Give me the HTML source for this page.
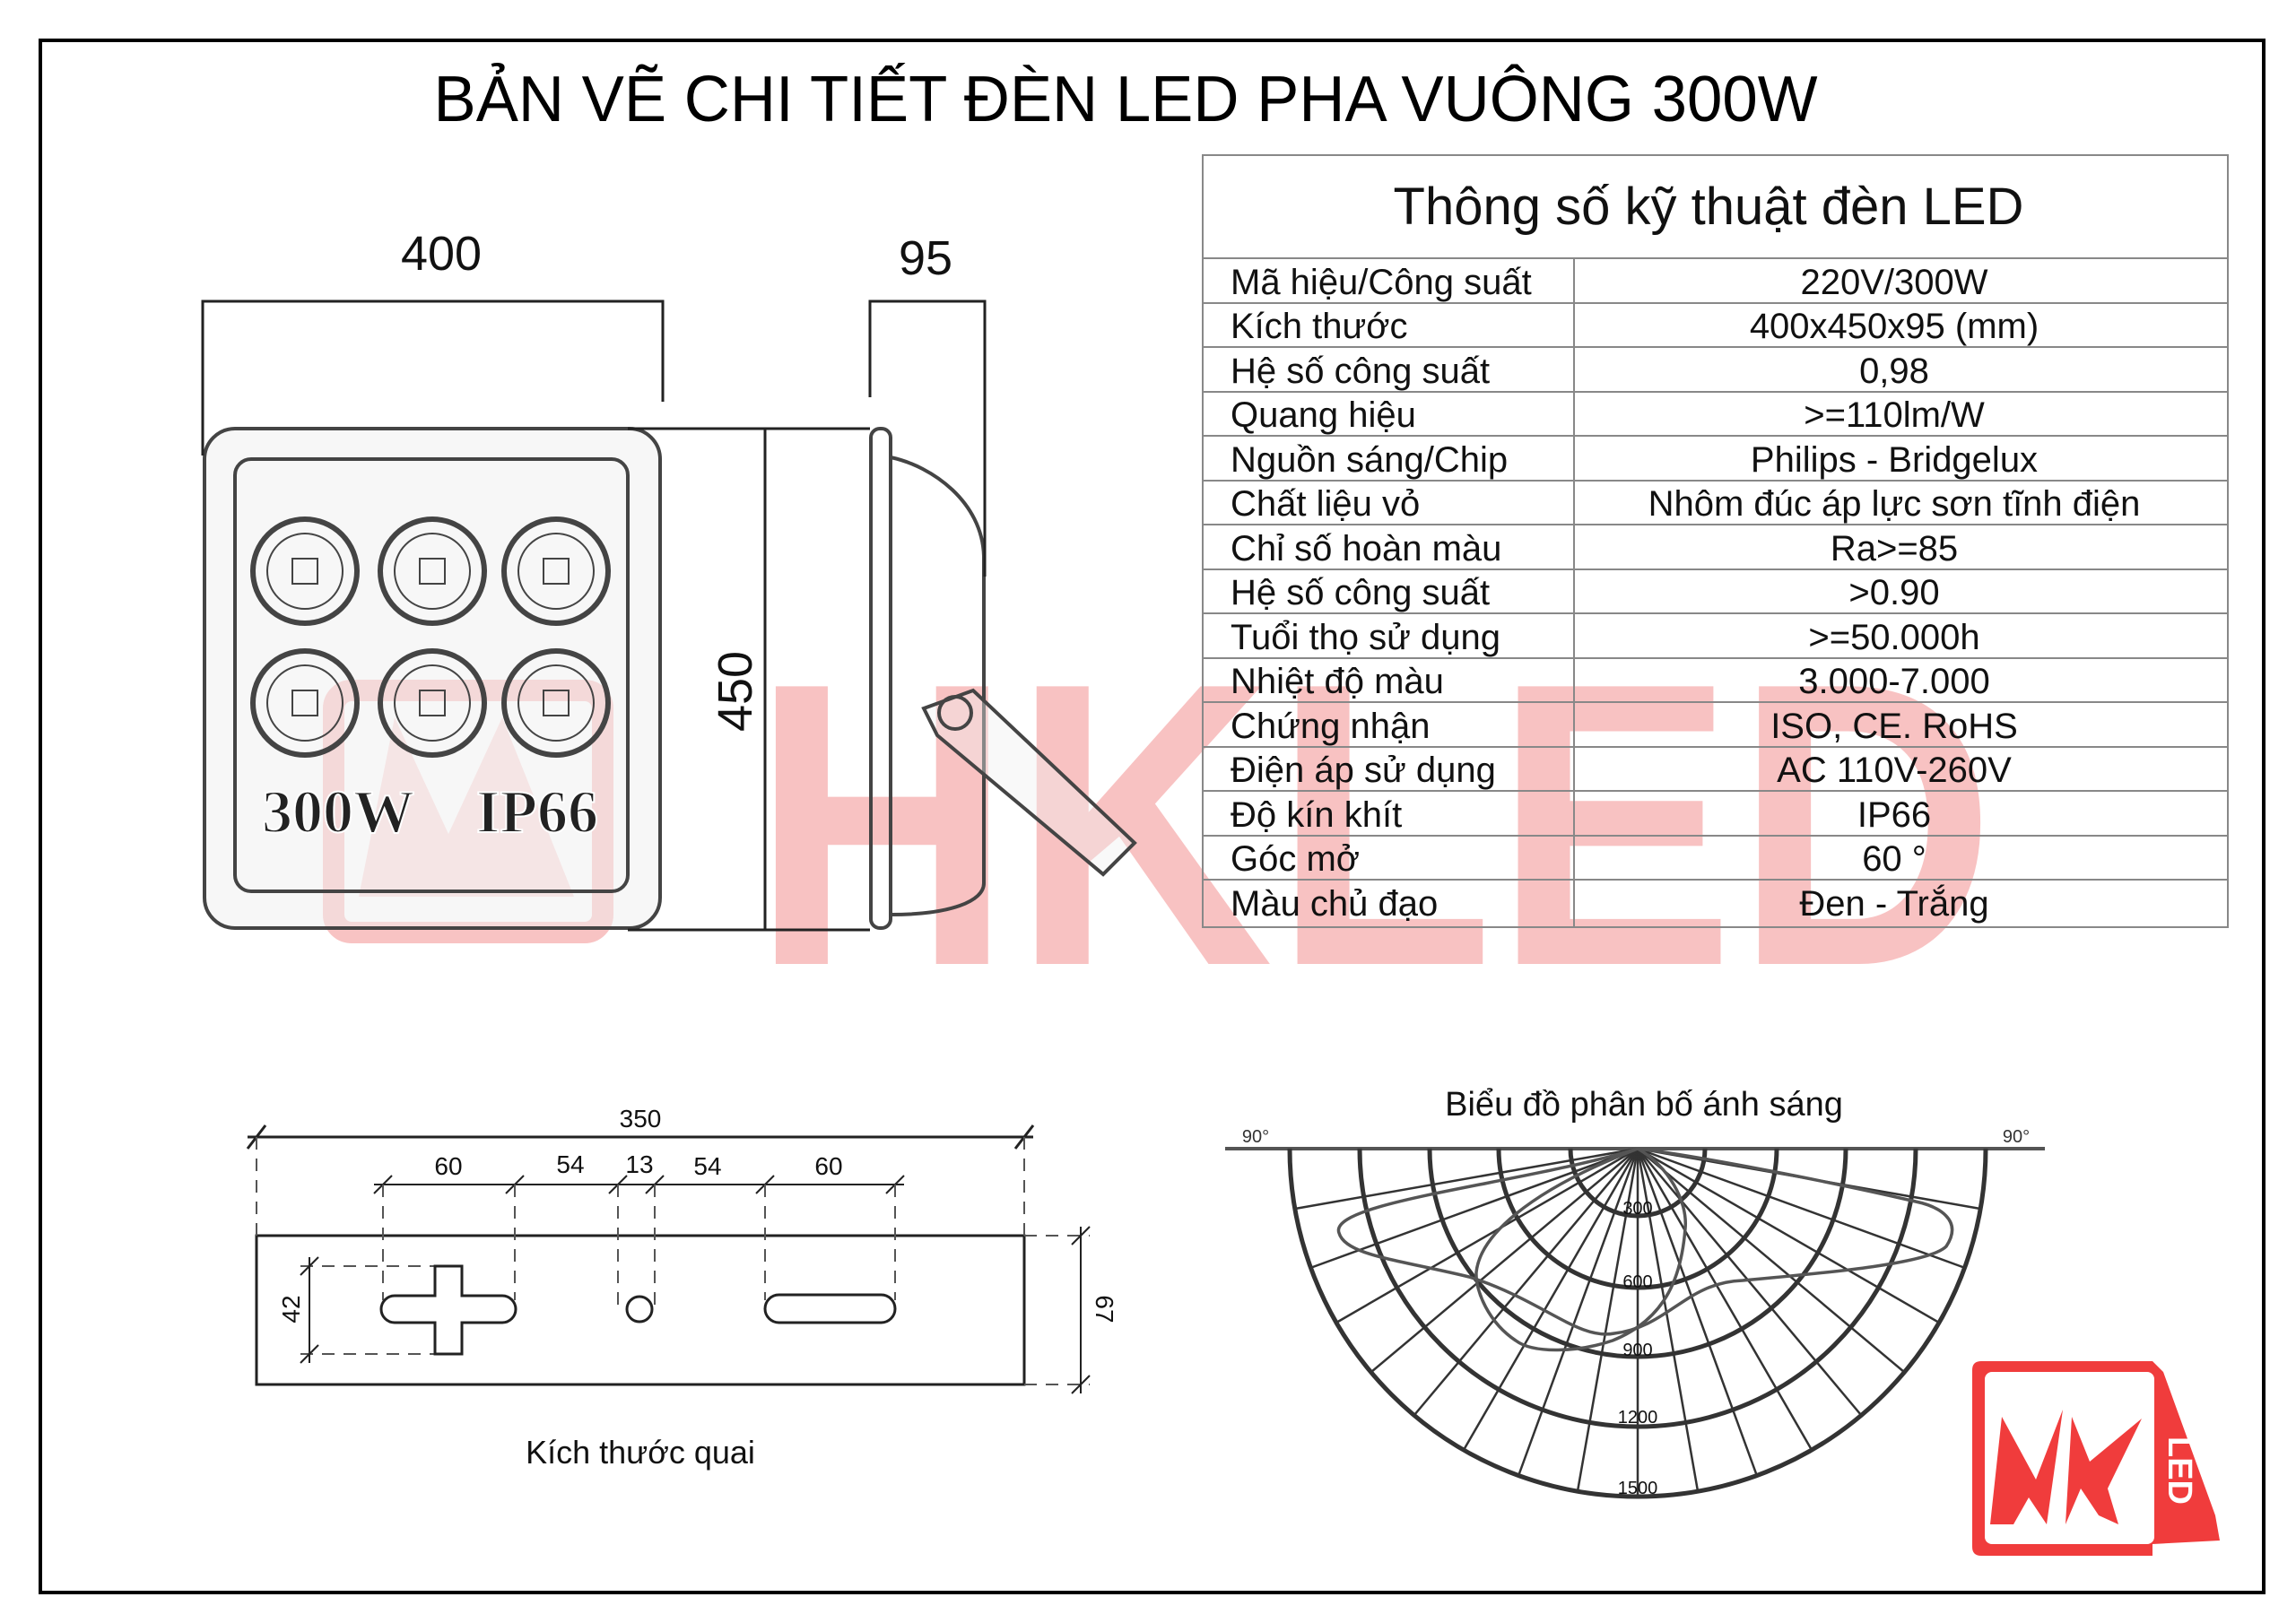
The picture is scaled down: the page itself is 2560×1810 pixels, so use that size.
<!DOCTYPE html>
<html><head><meta charset="utf-8"><style>
html,body{margin:0;padding:0;background:#fff;}
svg{display:block;}
text{font-family:"Liberation Sans","DejaVu Sans",sans-serif;fill:#111;}
</style></head><body>
<svg width="2560" height="1810" viewBox="0 0 2560 1810" xmlns="http://www.w3.org/2000/svg">
<rect x="0" y="0" width="2560" height="1810" fill="#fff"/>
<!-- watermark -->
<g opacity="0.45">
<text x="838" y="1075" font-size="450" font-weight="bold" textLength="1387" lengthAdjust="spacingAndGlyphs" style="fill:#f07a7a">HKLED</text>
<rect x="372" y="770" width="300" height="270" rx="20" fill="none" stroke="#f07a7a" stroke-width="24"/>
<path d="M400 1000 L440 800 L500 930 L560 800 L640 1000 Z" fill="#f07a7a" opacity="0.6"/>
</g>
<!-- border -->
<rect x="45" y="45" width="2479" height="1731" fill="none" stroke="#000" stroke-width="4"/>
<text x="1255" y="135" font-size="72" text-anchor="middle" textLength="1543" lengthAdjust="spacingAndGlyphs" style="fill:#000">BẢN VẼ CHI TIẾT ĐÈN LED PHA VUÔNG 300W</text>

<!-- front view lamp -->
<g stroke="#444" fill="none" stroke-width="4">
<rect x="228" y="478" width="508" height="557" rx="34" fill="rgba(240,240,240,0.5)"/>
<rect x="262" y="512" width="438" height="482" rx="18"/>
<g stroke-width="6">
<circle cx="340" cy="637" r="58"/><circle cx="482" cy="637" r="58"/><circle cx="620" cy="637" r="58"/>
<circle cx="340" cy="784" r="58"/><circle cx="482" cy="784" r="58"/><circle cx="620" cy="784" r="58"/>
</g>
<g stroke-width="2">
<circle cx="340" cy="637" r="42"/><circle cx="482" cy="637" r="42"/><circle cx="620" cy="637" r="42"/>
<circle cx="340" cy="784" r="42"/><circle cx="482" cy="784" r="42"/><circle cx="620" cy="784" r="42"/>
<rect x="326" y="623" width="28" height="28"/><rect x="468" y="623" width="28" height="28"/><rect x="606" y="623" width="28" height="28"/>
<rect x="326" y="770" width="28" height="28"/><rect x="468" y="770" width="28" height="28"/><rect x="606" y="770" width="28" height="28"/>
</g>
</g>
<text x="377" y="928" font-size="68" font-weight="bold" text-anchor="middle" style="font-family:'Liberation Serif',serif;fill:#222;stroke:#fff;stroke-width:2">300W</text>
<text x="599" y="928" font-size="68" font-weight="bold" text-anchor="middle" style="font-family:'Liberation Serif',serif;fill:#222;stroke:#fff;stroke-width:2">IP66</text>

<!-- side view -->
<g stroke="#444" fill="none" stroke-width="4">
<rect x="971" y="478" width="22" height="557" rx="10"/>
<path d="M993 510 C1040 520 1095 560 1097 620 L1097 985 C1097 1005 1060 1020 993 1020"/>
<path d="M1030 790 L1085 770 L1265 940 L1230 975 L1045 820 Z" fill="rgba(240,240,240,0.4)"/>
<circle cx="1065" cy="795" r="18"/>
</g>

<!-- dimensions top -->
<g stroke="#222" stroke-width="3" fill="none">
<path d="M226 508 V336 H739 V448"/>
<path d="M970 443 V336 H1098 V643"/>
<path d="M700 478 H970 M700 1037 H970 M853 478 V1037"/>
</g>
<text x="492" y="301" font-size="54" text-anchor="middle">400</text>
<text x="1032" y="306" font-size="54" text-anchor="middle">95</text>
<text transform="translate(838,771) rotate(-90)" font-size="54" text-anchor="middle">450</text>

<!-- table -->
<rect x="1341" y="173" width="1143" height="861" fill="none" stroke="#888" stroke-width="2"/>
<text x="1905" y="250" font-size="58" text-anchor="middle">Thông số kỹ thuật đèn LED</text>
<g stroke="#888" stroke-width="2">
<line x1="1341" y1="288" x2="2484" y2="288"/>
<line x1="1341" y1="338" x2="2484" y2="338"/><line x1="1341" y1="387" x2="2484" y2="387"/>
<line x1="1341" y1="437" x2="2484" y2="437"/><line x1="1341" y1="486" x2="2484" y2="486"/>
<line x1="1341" y1="536" x2="2484" y2="536"/><line x1="1341" y1="585" x2="2484" y2="585"/>
<line x1="1341" y1="635" x2="2484" y2="635"/><line x1="1341" y1="684" x2="2484" y2="684"/>
<line x1="1341" y1="734" x2="2484" y2="734"/><line x1="1341" y1="783" x2="2484" y2="783"/>
<line x1="1341" y1="833" x2="2484" y2="833"/><line x1="1341" y1="882" x2="2484" y2="882"/>
<line x1="1341" y1="932" x2="2484" y2="932"/><line x1="1341" y1="981" x2="2484" y2="981"/>
<line x1="1755" y1="288" x2="1755" y2="1034"/>
</g>
<g font-size="40">
<text x="1372" y="328">Mã hiệu/Công suất</text>
<text x="1372" y="377">Kích thước</text>
<text x="1372" y="427">Hệ số công suất</text>
<text x="1372" y="476">Quang hiệu</text>
<text x="1372" y="526">Nguồn sáng/Chip</text>
<text x="1372" y="575">Chất liệu vỏ</text>
<text x="1372" y="625">Chỉ số hoàn màu</text>
<text x="1372" y="674">Hệ số công suất</text>
<text x="1372" y="724">Tuổi thọ sử dụng</text>
<text x="1372" y="773">Nhiệt độ màu</text>
<text x="1372" y="823">Chứng nhận</text>
<text x="1372" y="872">Điện áp sử dụng</text>
<text x="1372" y="922">Độ kín khít</text>
<text x="1372" y="971">Góc mở</text>
<text x="1372" y="1021">Màu chủ đạo</text>
</g>
<g font-size="40" text-anchor="middle">
<text x="2112" y="328">220V/300W</text>
<text x="2112" y="377">400x450x95 (mm)</text>
<text x="2112" y="427">0,98</text>
<text x="2112" y="476">&gt;=110lm/W</text>
<text x="2112" y="526">Philips - Bridgelux</text>
<text x="2112" y="575">Nhôm đúc áp lực sơn tĩnh điện</text>
<text x="2112" y="625">Ra&gt;=85</text>
<text x="2112" y="674">&gt;0.90</text>
<text x="2112" y="724">&gt;=50.000h</text>
<text x="2112" y="773">3.000-7.000</text>
<text x="2112" y="823">ISO, CE. RoHS</text>
<text x="2112" y="872">AC 110V-260V</text>
<text x="2112" y="922">IP66</text>
<text x="2112" y="971">60 °</text>
<text x="2112" y="1021">Đen - Trắng</text>
</g>

<!-- bracket drawing -->
<g stroke="#222" fill="none" stroke-width="3">
<rect x="286" y="1378" width="856" height="166"/>
<line x1="276" y1="1268" x2="1152" y2="1268"/>
<line x1="276" y1="1281" x2="296" y2="1255"/><line x1="1132" y1="1281" x2="1152" y2="1255"/>
<line x1="417" y1="1321" x2="1008" y2="1321" stroke-width="2"/>
<g stroke-width="2">
<line x1="417" y1="1331" x2="437" y2="1311"/><line x1="564" y1="1331" x2="584" y2="1311"/>
<line x1="679" y1="1331" x2="699" y2="1311"/><line x1="720" y1="1331" x2="740" y2="1311"/>
<line x1="843" y1="1331" x2="863" y2="1311"/><line x1="988" y1="1331" x2="1008" y2="1311"/>
</g>
<g stroke-dasharray="14 10" stroke-width="2" stroke="#555">
<line x1="286" y1="1268" x2="286" y2="1378"/><line x1="1142" y1="1268" x2="1142" y2="1378"/>
<line x1="427" y1="1321" x2="427" y2="1450"/><line x1="574" y1="1321" x2="574" y2="1450"/>
<line x1="689" y1="1321" x2="689" y2="1460"/><line x1="730" y1="1321" x2="730" y2="1460"/>
<line x1="853" y1="1321" x2="853" y2="1450"/><line x1="998" y1="1321" x2="998" y2="1450"/>
<line x1="335" y1="1412" x2="485" y2="1412"/><line x1="335" y1="1510" x2="485" y2="1510"/>
<line x1="1142" y1="1378" x2="1215" y2="1378"/><line x1="1142" y1="1544" x2="1215" y2="1544"/>
</g>
<path d="M440 1445 H485 V1412 H515 V1445 H560 A15 15 0 0 1 560 1475 H515 V1510 H485 V1475 H440 A15 15 0 0 1 440 1445 Z"/>
<circle cx="713" cy="1460" r="14"/>
<rect x="853" y="1444" width="145" height="31" rx="15.5"/>
<line x1="345" y1="1402" x2="345" y2="1520" stroke-width="2"/>
<line x1="335" y1="1422" x2="355" y2="1402" stroke-width="2"/><line x1="335" y1="1520" x2="355" y2="1500" stroke-width="2"/>
<line x1="1205" y1="1368" x2="1205" y2="1554" stroke-width="2"/>
<line x1="1195" y1="1388" x2="1215" y2="1368" stroke-width="2"/><line x1="1195" y1="1554" x2="1215" y2="1534" stroke-width="2"/>
</g>
<g font-size="28" text-anchor="middle" style="fill:#333">
<text x="714" y="1257">350</text>
<text x="500" y="1310">60</text>
<text x="636" y="1308">54</text>
<text x="713" y="1308">13</text>
<text x="789" y="1310">54</text>
<text x="924" y="1310">60</text>
<text transform="translate(334,1460) rotate(-90)">42</text>
<text transform="translate(1222,1460) rotate(90)">67</text>
</g>
<text x="714" y="1632" font-size="36" text-anchor="middle">Kích thước quai</text>

<!-- polar chart -->
<text x="1833" y="1244" font-size="38" text-anchor="middle">Biểu đồ phân bố ánh sáng</text>
<text x="1400" y="1274" font-size="20" text-anchor="middle" style="fill:#333">90°</text>
<text x="2248" y="1274" font-size="20" text-anchor="middle" style="fill:#333">90°</text>
<g stroke="#333" fill="none" stroke-width="3">
<line x1="1366" y1="1281" x2="2280" y2="1281" stroke-width="4" stroke="#555"/>
<path d="M1751 1281 A75 75 0 0 0 1901 1281" stroke-width="5"/>
<path d="M1671 1281 A155 155 0 0 0 1981 1281" stroke-width="5"/>
<path d="M1594 1281 A232 232 0 0 0 2058 1281" stroke-width="5"/>
<path d="M1516 1281 A310 310 0 0 0 2136 1281" stroke-width="5"/>
<path d="M1438 1281 A388 388 0 0 0 2214 1281" stroke-width="5"/>
<g stroke-width="2.5">
<line x1="1826" y1="1281" x2="1826" y2="1669"/>
<line x1="1826" y1="1281" x2="1759" y2="1663"/><line x1="1826" y1="1281" x2="1893" y2="1663"/>
<line x1="1826" y1="1281" x2="1693" y2="1646"/><line x1="1826" y1="1281" x2="1959" y2="1646"/>
<line x1="1826" y1="1281" x2="1632" y2="1617"/><line x1="1826" y1="1281" x2="2020" y2="1617"/>
<line x1="1826" y1="1281" x2="1577" y2="1578"/><line x1="1826" y1="1281" x2="2075" y2="1578"/>
<line x1="1826" y1="1281" x2="1529" y2="1530"/><line x1="1826" y1="1281" x2="2123" y2="1530"/>
<line x1="1826" y1="1281" x2="1490" y2="1475"/><line x1="1826" y1="1281" x2="2162" y2="1475"/>
<line x1="1826" y1="1281" x2="1461" y2="1414"/><line x1="1826" y1="1281" x2="2191" y2="1414"/>
<line x1="1826" y1="1281" x2="1444" y2="1348"/><line x1="1826" y1="1281" x2="2208" y2="1348"/>
</g>
<path stroke="#555" stroke-width="3.5" d="M1826 1281 C1700 1320 1480 1340 1493 1375 C1500 1400 1560 1405 1638 1424 C1720 1450 1760 1495 1800 1487 C1860 1480 1880 1430 1943 1428 C2030 1420 2150 1410 2170 1390 C2190 1360 2160 1345 2136 1340 C2050 1320 1900 1290 1826 1281 Z"/>
<path stroke="#555" stroke-width="3.5" d="M1826 1281 C1860 1300 1882 1340 1879 1370 C1875 1420 1860 1470 1798 1495 C1760 1508 1710 1510 1690 1495 C1660 1475 1645 1440 1646 1419 C1650 1380 1700 1330 1826 1281 Z"/>
</g>
<g font-size="20" text-anchor="middle" style="fill:#222">
<text x="1826" y="1354">300</text>
<text x="1826" y="1436">600</text>
<text x="1826" y="1512">900</text>
<text x="1826" y="1587">1200</text>
<text x="1826" y="1666">1500</text>
</g>

<!-- logo -->
<g>
<path d="M2199 1528 Q2199 1518 2209 1518 L2400 1518 L2412 1530 L2470 1690 L2475 1718 L2400 1722 L2400 1735 L2209 1735 Q2199 1735 2199 1725 Z" fill="#f03c3c"/>
<rect x="2213" y="1530" width="189" height="192" rx="8" fill="#fff"/>
<path d="M2219 1700 L2232 1580 L2270 1650 L2300 1572 L2282 1700 L2262 1670 L2245 1700 Z" fill="#f03c3c"/>
<path d="M2303 1700 L2310 1580 L2330 1630 L2388 1582 L2350 1660 L2362 1700 L2340 1690 L2320 1660 Z" fill="#f03c3c"/>
<text transform="translate(2418,1640) rotate(90)" font-size="38" font-weight="bold" text-anchor="middle" style="fill:#fff">LED</text>
</g>
</svg>
</body></html>
